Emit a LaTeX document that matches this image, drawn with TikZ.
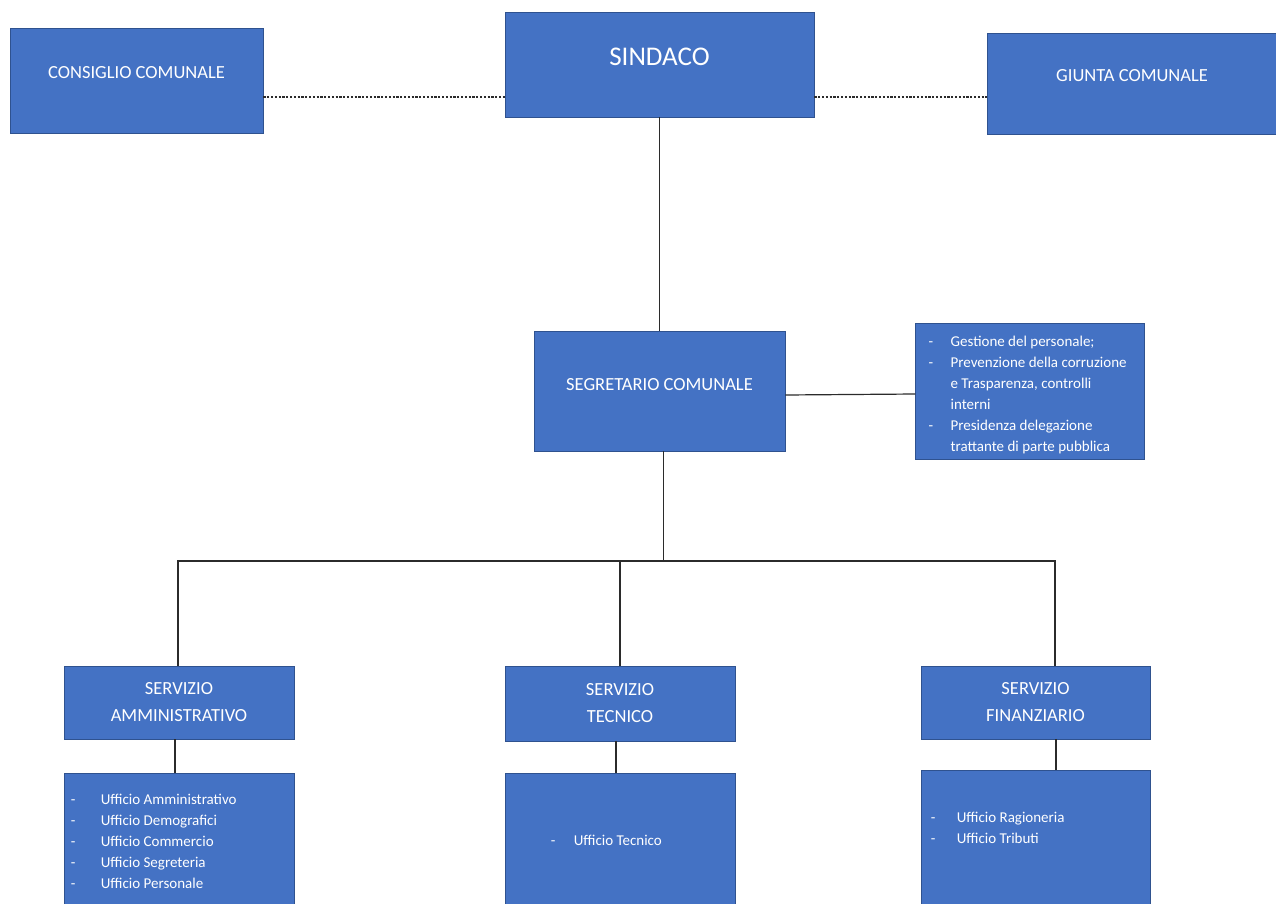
\documentclass[tikz,border=0pt]{standalone}
\usepackage{fontspec}
\setmainfont{Carlito}
\usetikzlibrary{positioning}
\definecolor{boxblue}{HTML}{4472C4}
\definecolor{boxborder}{HTML}{2F528F}
\definecolor{linea}{HTML}{2B2B2B}
\newcommand{\voce}[2]{\makebox[#1][l]{-}#2}

\begin{document}
\begin{tikzpicture}[x=1pt, y=-1pt, box/.style={rectangle, draw=boxborder, line width=0.8pt, fill=boxblue, text=white, inner sep=0pt, font=\fontsize{18.5}{27}\selectfont}, voci/.style={anchor=north west, inner sep=0pt, text=white, align=left, font=\fontsize{15}{21}\selectfont}, conn/.style={draw=linea, line width=1.2pt}, dotline/.style={draw=linea, line width=2.2pt, dash pattern=on 2.2pt off 1.6pt}]
\useasboundingbox (0,0) rectangle (1276,904);
\node[box, minimum width=253pt, minimum height=105pt, text depth=16pt] (consiglio) at (136.5,80.5) {CONSIGLIO COMUNALE};
\node[box, minimum width=309pt, minimum height=105pt, text depth=15pt, font=\fontsize{27}{32}\selectfont] (sindaco) at (659.5,64.5) {SINDACO};
\node[box, minimum width=290pt, minimum height=101pt, text depth=17pt] (giunta) at (1132,83.5) {GIUNTA COMUNALE};
\node[box, minimum width=251pt, minimum height=120pt, text depth=14pt] (segretario) at (659.5,391) {SEGRETARIO COMUNALE};
\node[box, minimum width=229pt, minimum height=136pt, right=130pt of segretario, label={[voci, xshift=13pt, yshift=-13pt]north west:{\voce{22pt}{Gestione del personale;}\\ \voce{22pt}{Prevenzione della corruzione}\\ \hspace*{22pt}e Trasparenza, controlli\\ \hspace*{22pt}interni\\ \voce{22pt}{Presidenza delegazione}\\ \hspace*{22pt}trattante di parte pubblica}}] (compiti) {};
\node[box, minimum width=230pt, minimum height=73pt, align=center] (amm) at (179,702.5) {SERVIZIO\\AMMINISTRATIVO};
\node[box, minimum width=230pt, minimum height=75pt, align=center] (tec) at (620,703.5) {SERVIZIO\\TECNICO};
\node[box, minimum width=229pt, minimum height=73pt, align=center] (fin) at (1035.5,702.5) {SERVIZIO\\FINANZIARIO};
\node[box, minimum width=230pt, minimum height=140pt, below=34pt of amm, label={[voci, xshift=7pt, yshift=-21pt]north west:{\voce{30pt}{Ufficio Amministrativo}\\ \voce{30pt}{Ufficio Demografici}\\ \voce{30pt}{Ufficio Commercio}\\ \voce{30pt}{Ufficio Segreteria}\\ \voce{30pt}{Ufficio Personale}}}] (amm-uffici) {};
\node[box, minimum width=230pt, minimum height=140pt, below=32pt of tec, label={[voci, xshift=46pt, yshift=-62pt]north west:{\voce{23pt}{Ufficio Tecnico}}}] (tec-uffici) {};
\node[box, minimum width=229pt, minimum height=140pt, below=31pt of fin, label={[voci, xshift=10pt, yshift=-42pt]north west:{\voce{26pt}{Ufficio Ragioneria}\\ \voce{26pt}{Ufficio Tributi}}}] (fin-uffici) {};
\coordinate (snodo) at (663.5,561);

\draw[dotline] ([yshift=-16.5pt]consiglio.east)--([yshift=-32.5pt]sindaco.west);
\draw[dotline] ([yshift=-32.5pt]sindaco.east)--([yshift=-13.5pt]giunta.west);
\draw[conn] (sindaco.south)--(segretario.north);
\draw[conn] ([yshift=-4pt]segretario.east)--([yshift=-3pt]compiti.west);
\draw[conn] ([xshift=4pt]segretario.south)--(snodo);
\draw[conn] ([xshift=-1pt]amm.north)|-(snodo)-|([xshift=19.5pt]fin.north);
\draw[conn] (tec.north)--(tec.north |- snodo);
\draw[conn] ([xshift=-4pt]amm.south)--([xshift=-4pt]amm-uffici.north);
\draw[conn] ([xshift=-4pt]tec.south)--([xshift=-4pt]tec-uffici.north);
\draw[conn] ([xshift=20.5pt]fin.south)--([xshift=20.5pt]fin-uffici.north);
\end{tikzpicture}
\end{document}
